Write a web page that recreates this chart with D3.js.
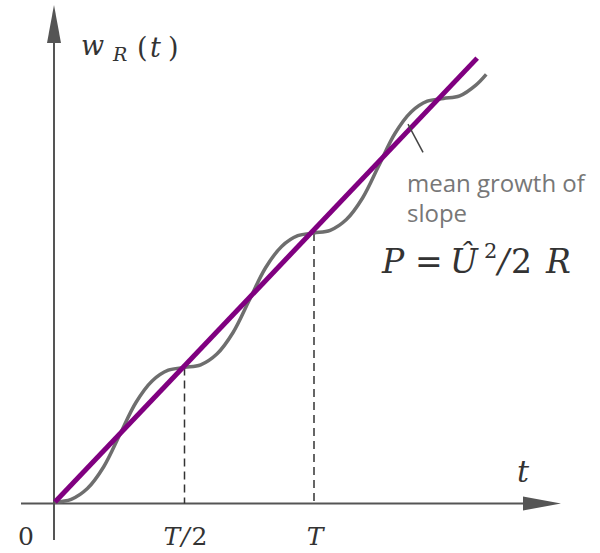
<!DOCTYPE html>
<html>
<head>
<meta charset="utf-8">
<script src="https://cdn.jsdelivr.net/npm/d3@7"></script>
<style>
  body { margin: 0; background: #fff; }
  svg { display: block; }
  .serif { font-family: "DejaVu Serif", "Liberation Serif", serif; }
</style>
</head>
<body>
<div id="chart"></div>
<script>
// energy curve w_R(t), t in units of T, w in units of P*T
var curveT = [0, 0.0625, 0.125, 0.1875, 0.25, 0.3125, 0.375, 0.4375, 0.5,
    0.5625, 0.625, 0.6875, 0.75, 0.8125, 0.875, 0.9375, 1.0,
    1.0625, 1.125, 1.1875, 1.25, 1.3125, 1.375, 1.4375, 1.5,
    1.5625, 1.625, 1.665];
var curveW = [0, 0.01, 0.05, 0.13, 0.25, 0.37, 0.45, 0.49, 0.50,
    0.51, 0.55, 0.63, 0.75, 0.87, 0.95, 0.99, 1.00,
    1.01, 1.05, 1.13, 1.25, 1.37, 1.45, 1.49, 1.50,
    1.51, 1.55, 1.59];

// mean growth line
var meanT = [0, 1.63];
var meanW = [0, 1.65];

// dashed guides and tick labels
var guideT = [0.5, 1];
var tickT = [0, 0.5, 1];
var tickLabels = ["0", "T/2", "T"];

// leader line for the annotation
var leaderT = [1.363, 1.421];
var leaderW = [1.405, 1.30];

var width = 600, height = 553;

var svg = d3.select("#chart").append("svg")
    .attr("width", width)
    .attr("height", height);

var x = d3.scaleLinear().domain([0, 1]).range([55, 314]);
var y = d3.scaleLinear().domain([0, 1]).range([502, 233]);

var axisColor = "#555";
var x0 = 54, y0 = 503.5;

// axes
svg.append("line")
    .attr("x1", 21).attr("y1", y0).attr("x2", 530).attr("y2", y0)
    .attr("stroke", axisColor).attr("stroke-width", 2);
svg.append("path")
    .attr("d", "M523," + (y0 - 7) + " L561," + y0 + " L523," + (y0 + 7) + " Z")
    .attr("fill", axisColor);

svg.append("line")
    .attr("x1", x0).attr("y1", 540).attr("x2", x0).attr("y2", 38)
    .attr("stroke", axisColor).attr("stroke-width", 2);
svg.append("path")
    .attr("d", "M" + (x0 - 7) + ",43 L" + x0 + ",5 L" + (x0 + 7) + ",43 Z")
    .attr("fill", axisColor);

// dashed guides
svg.selectAll(".guide")
    .data(guideT)
    .enter()
    .append("line")
    .attr("class", "guide")
    .attr("x1", function(d) { return x(d); })
    .attr("x2", function(d) { return x(d); })
    .attr("y1", function(d) { return y(d); })
    .attr("y2", y0)
    .attr("stroke", "#333")
    .attr("stroke-width", 1.5)
    .attr("stroke-dasharray", "8,5");

// wavy energy curve
var curvePts = curveT.map(function(t, i) { return [t, curveW[i]]; });
var line = d3.line()
    .x(function(d) { return x(d[0]); })
    .y(function(d) { return y(d[1]); })
    .curve(d3.curveCatmullRom.alpha(0.5));

svg.append("path")
    .attr("d", line(curvePts))
    .attr("fill", "none")
    .attr("stroke", "#6e6e6e")
    .attr("stroke-width", 3.5);

// mean line
var meanPts = meanT.map(function(t, i) { return [t, meanW[i]]; });
svg.append("path")
    .attr("d", d3.line().x(function(d) { return x(d[0]); }).y(function(d) { return y(d[1]); })(meanPts))
    .attr("fill", "none")
    .attr("stroke", "#800080")
    .attr("stroke-width", 5);

// leader line
svg.append("line")
    .attr("x1", x(leaderT[0])).attr("y1", y(leaderW[0]))
    .attr("x2", x(leaderT[1])).attr("y2", y(leaderW[1]))
    .attr("stroke", "#444").attr("stroke-width", 1.5);

// tick labels
svg.selectAll(".tick")
    .data(tickT)
    .enter()
    .append("text")
    .attr("class", "tick serif")
    .attr("x", function(d, i) { return i === 0 ? x(d) - 29 : x(d) + 1; })
    .attr("y", 545)
    .attr("text-anchor", "middle")
    .attr("font-size", 25)
    .attr("fill", "#333")
    .each(function(d, i) {
        var el = d3.select(this);
        var s = tickLabels[i];
        if (s === "0") { el.text(s); return; }
        el.append("tspan").attr("font-style", "italic").text("T");
        if (s.length > 1) {
            el.append("tspan").attr("font-style", "italic").attr("dx", 1).text("/");
            el.append("tspan").attr("dx", 2).text("2");
        }
    });

// axis label t
svg.append("text")
    .attr("class", "serif")
    .attr("x", 523).attr("y", 482)
    .attr("text-anchor", "middle")
    .attr("font-size", 30)
    .attr("font-style", "italic")
    .attr("fill", "#333")
    .text("t");

// y label w_R(t)
var yl = svg.append("text")
    .attr("class", "serif")
    .attr("y", 55)
    .attr("font-size", 27)
    .attr("fill", "#333");
yl.append("tspan").attr("x", 81).attr("font-style", "italic").text("w");
yl.append("tspan").attr("x", 113).attr("y", 61).attr("font-style", "italic").attr("font-size", 19).text("R");
yl.append("tspan").attr("x", 137).attr("y", 57).text("(");
yl.append("tspan").attr("x", 150).attr("font-style", "italic").text("t");
yl.append("tspan").attr("x", 168).text(")");

// annotation
var ann = svg.append("text")
    .attr("x", 407).attr("y", 192)
    .attr("font-family", "'Open Sans', sans-serif")
    .attr("font-size", 24)
    .attr("fill", "#777");
ann.append("tspan").attr("x", 407).text("mean growth of");
ann.append("tspan").attr("x", 407).attr("dy", 30).text("slope");

// formula P = Û²/2R
var f = svg.append("text")
    .attr("class", "serif")
    .attr("y", 273)
    .attr("font-size", 33)
    .attr("fill", "#333");
f.append("tspan").attr("x", 382).attr("font-style", "italic").text("P");
f.append("tspan").attr("x", 415).text("=");
f.append("tspan").attr("x", 450).attr("font-style", "italic").text("Û");
f.append("tspan").attr("x", 484).attr("y", 258).attr("font-size", 21).text("2");
f.append("tspan").attr("x", 498).attr("y", 273).attr("font-style", "italic").text("/");
f.append("tspan").attr("x", 511).text("2");
f.append("tspan").attr("x", 546).attr("font-style", "italic").text("R");
</script>
</body>
</html>
